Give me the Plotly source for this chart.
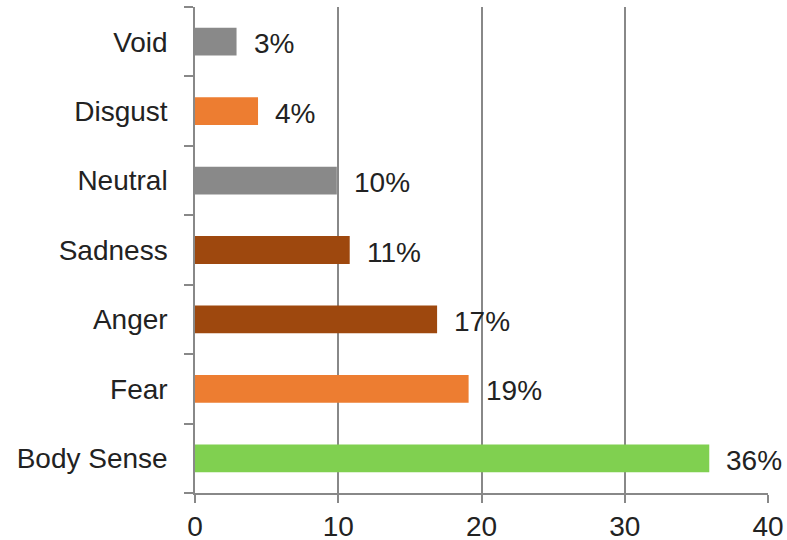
import plotly.graph_objects as go

# emotion categories, bottom to top
categories = ["Body Sense", "Fear", "Anger", "Sadness", "Neutral", "Disgust", "Void"]
values = [35.9, 19.1, 16.9, 10.8, 9.9, 4.4, 2.9]
labels = ["36%", "19%", "17%", "11%", "10%", "4%", "3%"]
colors = ["#80d050", "#ed7d31", "#9e480e", "#9e480e", "#898989", "#ed7d31", "#898989"]
x_ticks = [0, 10, 20, 30, 40]

font_family = "Liberation Sans, Arial, sans-serif"
grid_col = "#888888"

bars = go.Bar(x=values, y=categories, orientation="h",
              marker=dict(color=colors, line=dict(width=0)),
              width=0.4, hoverinfo="skip")

fig = go.Figure(data=[bars])

# percent labels beside each bar
for v, c, lab in zip(values, categories, labels):
    fig.add_annotation(x=v, y=c, text=lab, showarrow=False,
                       xanchor="left", yanchor="middle",
                       xshift=15, yshift=-2,
                       font=dict(family=font_family, size=28, color="#222222"))

fig.update_layout(
    width=787, height=540,
    margin=dict(l=195, r=19, t=7, b=47),
    paper_bgcolor="white", plot_bgcolor="white",
    showlegend=False,
    font=dict(family=font_family, size=28, color="#222222"),
    bargap=0.6,
)
fig.update_xaxes(range=[0, 40], tickvals=x_ticks, automargin=False,
                 showgrid=True, gridcolor=grid_col, gridwidth=1.5,
                 showline=True, linecolor=grid_col, linewidth=1.5,
                 ticks="outside", ticklen=8, tickwidth=1.5, tickcolor=grid_col,
                 ticklabelstandoff=0, zeroline=False,
                 tickfont=dict(size=28, color="#222222"))
fig.update_yaxes(type="category", categoryorder="array", categoryarray=categories,
                 automargin=False,
                 showgrid=False, showline=True, linecolor=grid_col, linewidth=1.5,
                 ticks="outside", ticklen=9, tickwidth=1.5, tickcolor=grid_col,
                 tickson="boundaries", ticklabelstandoff=20,
                 tickfont=dict(size=28, color="#222222"))

# drop the default body margin so the figure fills the window exactly
fig.write_html("out.html", config={"displayModeBar": False},
               post_script="document.body.style.margin='0';"
                           "document.body.style.overflow='hidden';")
